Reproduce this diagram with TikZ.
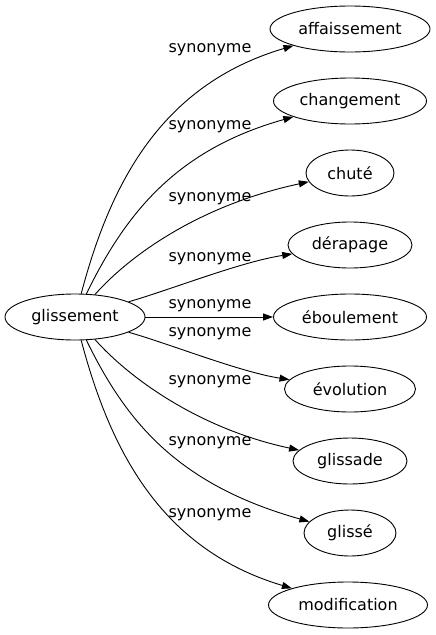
\documentclass[tikz,border=0pt]{standalone}
\usepackage{fontspec}
\setmainfont{DejaVu Sans}
\usetikzlibrary{shapes.geometric,arrows.meta}
\begin{document}
\begin{tikzpicture}[x=1pt,y=-1pt,
  word/.style={draw,ellipse,line width=0.9pt,inner sep=0pt,minimum height=46pt,font=\fontsize{16}{18}\selectfont},
  lab/.style={inner sep=0pt,font=\fontsize{16}{18}\selectfont},
  syn/.style={line width=0.9pt,-{Triangle[length=10pt,width=7pt]}}]
\useasboundingbox (0,0) rectangle (436,635);
\node[word,minimum width=140pt] (g) at (75,317) {glissement};
\node[word,minimum width=160pt] (n1) at (350,29) {affaissement};
\node[word,minimum width=153pt] (n2) at (350,101) {changement};
\node[word,minimum width=88pt] (n3) at (350,173) {chuté};
\node[word,minimum width=124pt] (n4) at (350,245) {dérapage};
\node[word,minimum width=153pt] (n5) at (350,317) {éboulement};
\node[word,minimum width=131pt] (n6) at (350,389) {évolution};
\node[word,minimum width=114pt] (n7) at (350,461) {glissade};
\node[word,minimum width=92pt] (n8) at (350,533) {glissé};
\node[word,minimum width=159pt] (n9) at (348,605) {modification};
\draw[syn] (g) .. controls (110,185) and (160,85) .. (n1);
\draw[syn] (g) .. controls (125,215) and (175,150) .. (n2);
\draw[syn] (g) .. controls (130,255) and (200,205) .. (n3);
\draw[syn] (g) .. controls (170,290) and (240,262) .. (n4);
\draw[syn] (g) -- (n5);
\draw[syn] (g) .. controls (170,344) and (240,372) .. (n6);
\draw[syn] (g) .. controls (130,379) and (200,429) .. (n7);
\draw[syn] (g) .. controls (125,419) and (175,484) .. (n8);
\draw[syn] (g) .. controls (110,449) and (160,549) .. (n9);
\node[lab] (l1) at (210,50) {synonyme};
\node[lab] (l2) at (210,127) {synonyme};
\node[lab] (l3) at (210,199) {synonyme};
\node[lab] (l4) at (210,259) {synonyme};
\node[lab] (l5) at (210,306) {synonyme};
\node[lab] (l6) at (210,334) {synonyme};
\node[lab] (l7) at (210,382) {synonyme};
\node[lab] (l8) at (210,443) {synonyme};
\node[lab] (l9) at (210,515) {synonyme};
\end{tikzpicture}
\end{document}
